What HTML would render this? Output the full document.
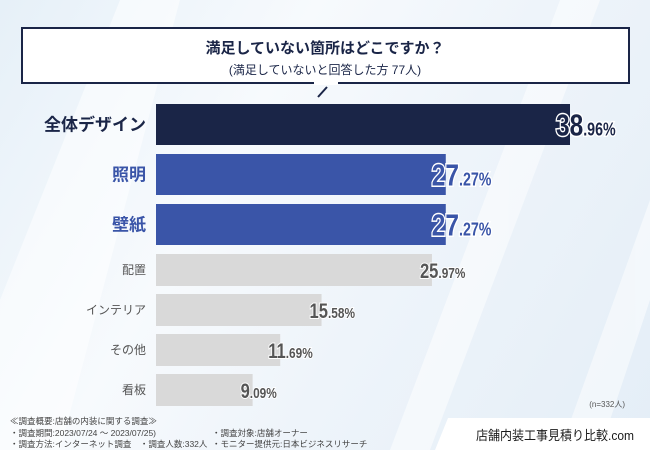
<!DOCTYPE html>
<html><head><meta charset="utf-8">
<style>
html,body{margin:0;padding:0}
body{width:650px;height:450px;overflow:hidden;position:relative;font-family:"Liberation Sans","Noto Sans CJK JP",sans-serif;background:linear-gradient(120deg,#e6f0f8 0%,#f7fafd 35%,#eef4fa 60%,#e4eef7 100%)}
svg{position:absolute;left:0;top:0}
</style></head><body>
<svg id="chart" width="650" height="450">
  <g opacity="0.5">
    <polygon points="0,300 120,0 180,0 60,450 0,450" fill="#ffffff"/>
    <polygon points="390,450 560,0 600,0 430,450" fill="#ffffff"/>
    <polygon points="560,450 650,200 650,300 600,450" fill="#ffffff"/>
  </g>
  <g>
    <rect x="22" y="28" width="607" height="55" fill="#fff" stroke="#1a2547" stroke-width="2"/>
    <rect x="314" y="82" width="24" height="3" fill="#fff"/>
    <line x1="318" y1="97" x2="327" y2="87" stroke="#1a2547" stroke-width="2"/>
    <text x="325" y="53" text-anchor="middle" font-size="15" font-weight="bold" fill="#1a2547">満足していない箇所はどこですか？</text>
    <text x="325" y="74" text-anchor="middle" font-size="12" fill="#1a2547">(満足していないと回答した方 77人)</text>
  </g>
  <g id="bars"></g>
  <text x="625" y="407" text-anchor="end" font-size="8" fill="#555">(n=332人)</text>
  <g font-size="8.5" fill="#444">
    <text x="10" y="424">≪調査概要:店舗の内装に関する調査≫</text>
    <text x="10" y="436">・調査期間:2023/07/24 ～ 2023/07/25)</text>
    <text x="10" y="447">・調査方法:インターネット調査　・調査人数:332人</text>
    <text x="212" y="436">・調査対象:店舗オーナー</text>
    <text x="212" y="447">・モニター提供元:日本ビジネスリサーチ</text>
  </g>
  <polygon points="448,418 650,418 650,450 435,450" fill="#fff"/>
  <text x="476" y="440" font-size="13" textLength="158" lengthAdjust="spacingAndGlyphs" fill="#1a1a1a">店舗内装工事見積り比較.com</text>
</svg>
<script>
const categories=["全体デザイン","照明","壁紙","配置","インテリア","その他","看板"];
const values=[38.96,27.27,27.27,25.97,15.58,11.69,9.09];
const ns="http://www.w3.org/2000/svg";
const g=document.getElementById('bars');
const x0=156, pxPer=414/38.96;
function xScale(v){return x0+v*pxPer;}
function rowTop(i){return i<3?104+i*50:254+(i-3)*40;}
function mk(t,a){const e=document.createElementNS(ns,t);for(const k in a)e.setAttribute(k,a[k]);g.appendChild(e);return e;}
categories.forEach((c,i)=>{
  const top=i<3;
  const h=top?41:32;
  const y=rowTop(i);
  const fill=i===0?"#1a2547":(top?"#3a55a8":"#d9d9d9");
  const tcol=i===0?"#1a2547":(top?"#3a55a8":"#555");
  const r=mk('rect',{x:x0,y:y,width:xScale(values[i])-x0,height:h,fill:fill});
  
  
  const l=mk('text',{x:146,y:y+h/2+(top?6:4),'text-anchor':'end','font-size':top?17:12,'font-weight':top?'bold':'normal',fill:tcol});
  l.textContent=c;
  
  
  const s=values[i].toFixed(2).split('.');
  const vx=xScale(values[i])-(top?14:12);
  const vt=mk('text',{x:0,y:y+h/2+(top?11:8),'font-weight':'bold',fill:tcol,stroke:'#fff','stroke-width':top?3:2,'paint-order':'stroke',transform:'translate('+vx+',0) scale(0.79,1)'});
  const a=document.createElementNS(ns,'tspan');a.setAttribute('font-size',top?31:21);a.textContent=s[0];vt.appendChild(a);
  const b=document.createElementNS(ns,'tspan');b.setAttribute('font-size',top?18:15);b.textContent='.'+s[1]+'%';vt.appendChild(b);
  
  
});
</script>
</body></html>
